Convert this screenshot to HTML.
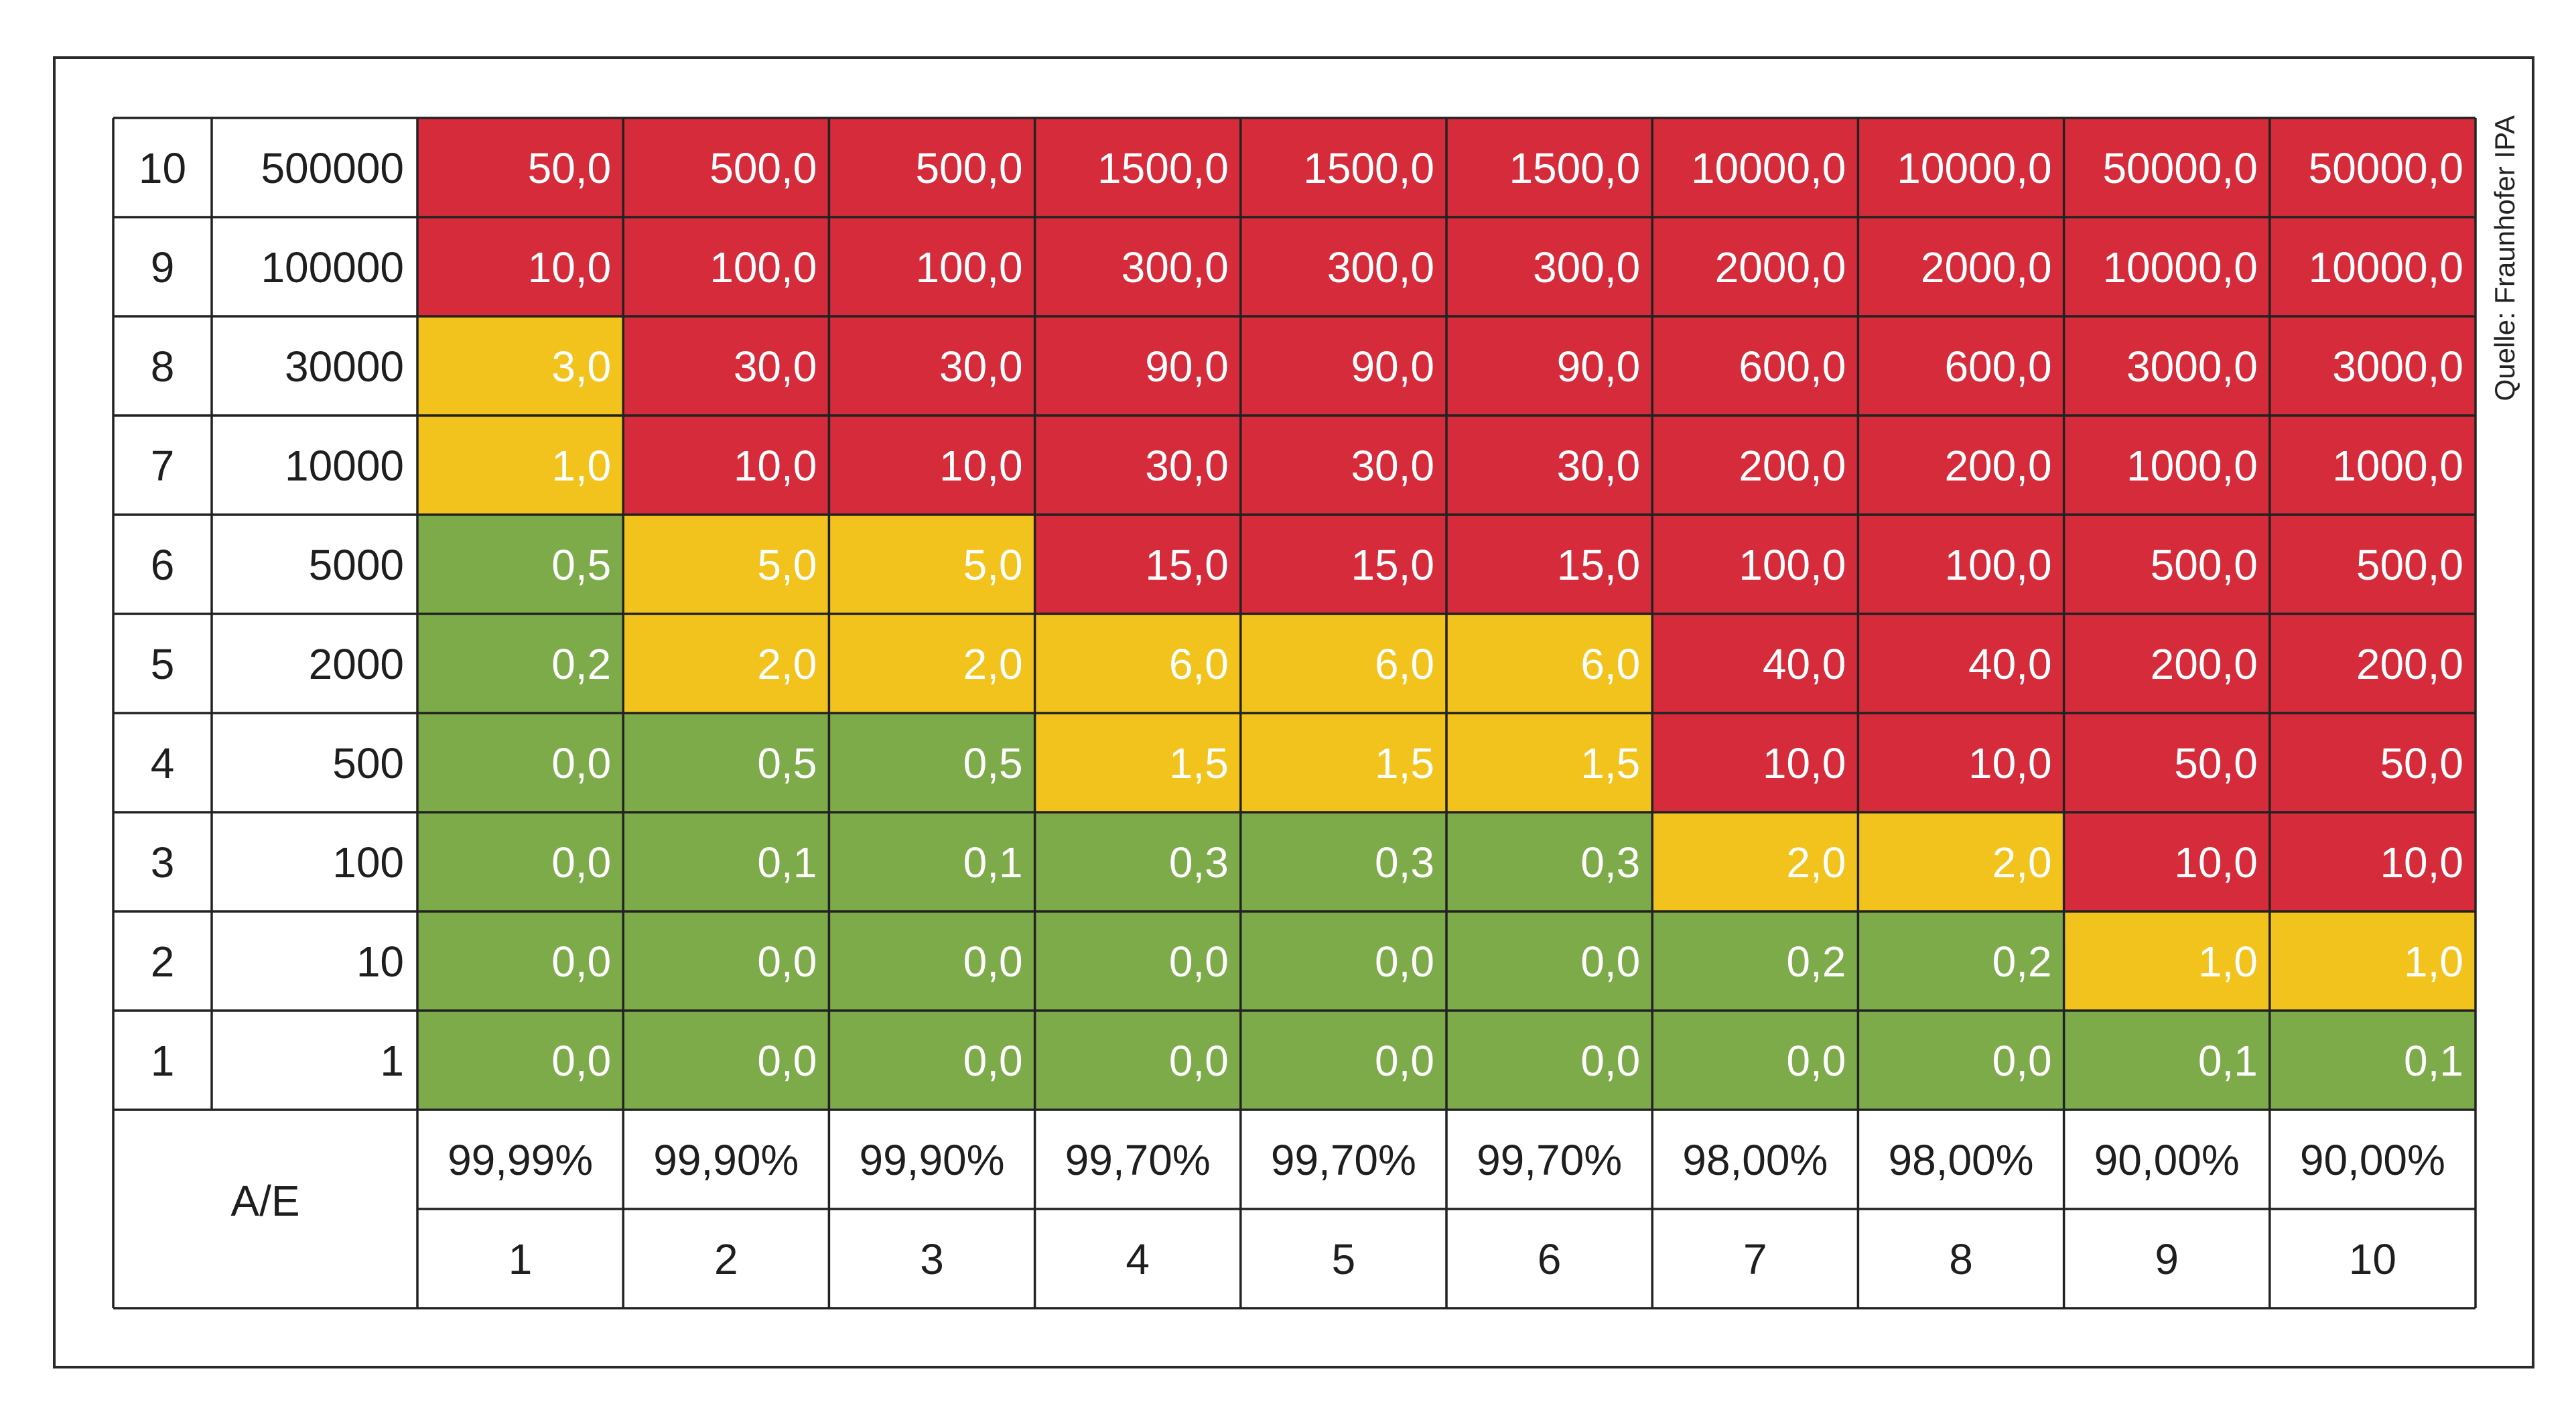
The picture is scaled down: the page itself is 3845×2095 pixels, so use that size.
<!DOCTYPE html>
<html><head><meta charset="utf-8">
<style>
html,body{margin:0;padding:0;background:#fff;}
svg{display:block;}
text{font-family:"Liberation Sans",sans-serif;}
</style></head>
<body>
<svg id="chart" width="3845" height="2095" viewBox="0 0 3845 2095" xmlns="http://www.w3.org/2000/svg">
<rect x="81" y="86" width="3700" height="1954" fill="#fff" stroke="#2a2a2a" stroke-width="4"/>
<text transform="translate(3753,172) rotate(-90)" text-anchor="end" font-size="42" fill="#222">Quelle: Fraunhofer IPA</text>
<g id="cells"></g>
<g id="grid"></g>
</svg>
<script>
const rowLabels = ["10","9","8","7","6","5","4","3","2","1"];
const rowValues = ["500000","100000","30000","10000","5000","2000","500","100","10","1"];
const percentLabels = ["99,99%","99,90%","99,90%","99,70%","99,70%","99,70%","98,00%","98,00%","90,00%","90,00%"];
const colLabels = ["1","2","3","4","5","6","7","8","9","10"];
const values = [
 [50,500,500,1500,1500,1500,10000,10000,50000,50000],
 [10,100,100,300,300,300,2000,2000,10000,10000],
 [3,30,30,90,90,90,600,600,3000,3000],
 [1,10,10,30,30,30,200,200,1000,1000],
 [0.5,5,5,15,15,15,100,100,500,500],
 [0.2,2,2,6,6,6,40,40,200,200],
 [0,0.5,0.5,1.5,1.5,1.5,10,10,50,50],
 [0,0.1,0.1,0.3,0.3,0.3,2,2,10,10],
 [0,0,0,0,0,0,0.2,0.2,1,1],
 [0,0,0,0,0,0,0,0,0.1,0.1]
];
const levels = [
 ["r","r","r","r","r","r","r","r","r","r"],
 ["r","r","r","r","r","r","r","r","r","r"],
 ["y","r","r","r","r","r","r","r","r","r"],
 ["y","r","r","r","r","r","r","r","r","r"],
 ["g","y","y","r","r","r","r","r","r","r"],
 ["g","y","y","y","y","y","r","r","r","r"],
 ["g","g","g","y","y","y","r","r","r","r"],
 ["g","g","g","g","g","g","y","y","r","r"],
 ["g","g","g","g","g","g","g","g","y","y"],
 ["g","g","g","g","g","g","g","g","g","g"]
];
const NS="http://www.w3.org/2000/svg";
const colors={r:"#d62b3a",y:"#f2c31c",g:"#7dab4a"};
const X0=169,X1=316,X2=623,CW=307.2,Y0=176,RH=148;
const colX=i=>X2+i*CW;
const rowY=j=>Y0+j*RH;
const cells=document.getElementById('cells');
const grid=document.getElementById('grid');
function mk(tag,attrs,parent){const e=document.createElementNS(NS,tag);for(const k in attrs)e.setAttribute(k,attrs[k]);parent.appendChild(e);return e;}
function fmt(v){return v.toFixed(1).replace('.',',');}
const FS=64;
rowLabels.forEach((lab,j)=>{
  const y=rowY(j);
  const t1=mk('text',{x:(X0+X1)/2,y:y+RH/2+23,'text-anchor':'middle','font-size':FS,fill:'#1e1e1e'},cells);
  
  
  t1.textContent=lab;
  const t2=mk('text',{x:X2-20,y:y+RH/2+23,'text-anchor':'end','font-size':FS,fill:'#1e1e1e'},cells);
  
  
  t2.textContent=rowValues[j];
  values[j].forEach((v,i)=>{
    const r=mk('rect',{x:colX(i),y:y,width:CW,height:RH,fill:colors[levels[j][i]]},cells);
    
    
    const t=mk('text',{x:colX(i)+CW-18,y:y+RH/2+23,'text-anchor':'end','font-size':FS,fill:'#fff'},cells);
    
    
    t.textContent=fmt(v);
  });
});
const yP=rowY(10),yC=rowY(11);
percentLabels.forEach((p,i)=>{
  const t=mk('text',{x:colX(i)+CW/2,y:yP+RH/2+23,'text-anchor':'middle','font-size':FS,fill:'#1e1e1e'},cells);
  
  
  t.textContent=p;
});
colLabels.forEach((c,i)=>{
  const t=mk('text',{x:colX(i)+CW/2,y:yC+RH/2+23,'text-anchor':'middle','font-size':FS,fill:'#1e1e1e'},cells);
  
  
  t.textContent=c;
});
const ae=mk('text',{x:(X0+X2)/2,y:yP+RH+10,'text-anchor':'middle','font-size':FS,fill:'#1e1e1e'},cells);


ae.textContent='A/E';
// grid lines
const XE=colX(10),YE=rowY(12);
const st={stroke:'#222','stroke-width':3.5};
for(let j=0;j<=12;j++){
  const x0=(j===11)?X2:X0;
  const l=mk('line',Object.assign({x1:x0,x2:XE,y1:rowY(j),y2:rowY(j)},st),grid);
  
  
}
[X0,X1].forEach((x,k)=>{
  const l=mk('line',Object.assign({x1:x,x2:x,y1:Y0,y2:k===0?YE:rowY(10)},st),grid);
  
  
});
for(let i=0;i<=10;i++){
  const l=mk('line',Object.assign({x1:colX(i),x2:colX(i),y1:Y0,y2:YE},st),grid);
  
  
}
</script>
</body></html>
